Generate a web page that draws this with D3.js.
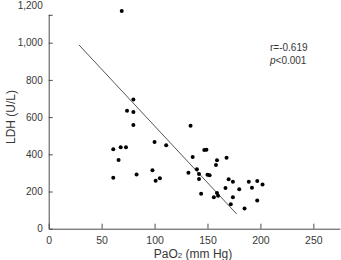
<!DOCTYPE html>
<html>
<head>
<meta charset="utf-8">
<script src="https://cdn.jsdelivr.net/npm/d3@7"></script>
<style>
  body { margin: 0; background: #fff; }
  text { font-family: "Liberation Sans", Arial, sans-serif; }
</style>
</head>
<body>
<div></div>
<script>
const width = 341;
const height = 260;

// PaO2 (mm Hg) vs LDH (U/L)
const pao2 = [69, 80, 74, 80, 80, 61, 68, 73, 66, 61, 83, 100, 111, 98, 101, 105,
  134, 136, 132, 140, 142, 142, 144, 147, 149, 150, 152, 159, 158, 168, 170, 174,
  167, 180, 159, 160, 156, 174, 172, 185, 189, 192, 197, 202, 197];
const ldh = [1170, 695, 634, 627, 558, 427, 438, 438, 369, 274, 292, 466, 448, 314, 258, 271,
  554, 385, 301, 319, 294, 267, 188, 423, 425, 290, 287, 368, 342, 382, 266, 253,
  219, 212, 192, 177, 169, 169, 131, 109, 253, 220, 256, 237, 151];
const fitLine = [[28.6, 988], [177.6, 79]];
const xTicks = [0, 50, 100, 150, 200, 250];
const yTicks = [0, 200, 400, 600, 800, 1000, 1200];
const stats = ['r=-0.619', 'p<0.001'];

const svg = d3.select('div').append('svg').attr('width', width).attr('height', height);

const x = d3.scaleLinear().domain([0, 275]).range([48.7, 339.8]);
const y = d3.scaleLinear().domain([0, 1000]).range([228.7, 42.7]);

const axisColor = '#4a4a4a';
const textColor = '#383838';

// x axis
const gx = svg.append('g').attr('transform', 'translate(0,' + y(0) + ')')
  .call(d3.axisBottom(x).tickValues(xTicks).tickSizeInner(-5).tickSizeOuter(0).tickPadding(8));
gx.select('.domain').attr('stroke', axisColor);
gx.selectAll('.tick line').attr('stroke', axisColor);
gx.selectAll('.tick text').attr('fill', textColor).style('font-size', '10.5px');

// y axis (line stops a bit below the top label)
const gy = svg.append('g').attr('transform', 'translate(' + x(0) + ',0)')
  .call(d3.axisLeft(y).tickValues(yTicks).tickFormat(d3.format(',')).tickSizeInner(-4).tickSizeOuter(0).tickPadding(6));
gy.select('.domain').attr('d', 'M0.5,' + y(0) + 'V' + y(1150));
gy.selectAll('.tick line').attr('stroke', axisColor)
  .attr('transform', d => d === 1200 ? 'translate(0,' + (y(1150) - y(1200)) + ')' : null);
gy.select('.domain').attr('stroke', axisColor);
gy.selectAll('.tick text').attr('fill', textColor).style('font-size', '10px');

// regression line
svg.append('line')
  .attr('x1', x(fitLine[0][0])).attr('y1', y(fitLine[0][1]))
  .attr('x2', x(fitLine[1][0])).attr('y2', y(fitLine[1][1]))
  .attr('stroke', '#555').attr('stroke-width', 1);

// points
svg.append('g').selectAll('circle')
  .data(d3.range(pao2.length))
  .enter().append('circle')
  .attr('cx', i => x(pao2[i]))
  .attr('cy', i => y(ldh[i]))
  .attr('r', 2)
  .attr('fill', '#000');

// stats text
const st = svg.append('text').attr('x', 270).attr('y', 51).attr('fill', textColor).style('font-size', '10px');
st.text(stats[0]);
const st2 = svg.append('text').attr('x', 270).attr('y', 63.5).attr('fill', textColor).style('font-size', '10px');
st2.append('tspan').style('font-style', 'italic').text('p');
st2.append('tspan').text(stats[1].slice(1));

// axis titles
svg.append('text')
  .attr('transform', 'translate(15,' + 117 + ') rotate(-90)')
  .attr('text-anchor', 'middle')
  .attr('fill', textColor)
  .style('font-size', '12px')
  .text('LDH (U/L)');

const xl = svg.append('text').attr('x', 193).attr('y', 257.5).attr('text-anchor', 'middle')
  .attr('fill', textColor).style('font-size', '12px');
xl.append('tspan').text('PaO');
xl.append('tspan').style('font-size', '8px').text('2');
xl.append('tspan').text(' (mm Hg)');
</script>
</body>
</html>
